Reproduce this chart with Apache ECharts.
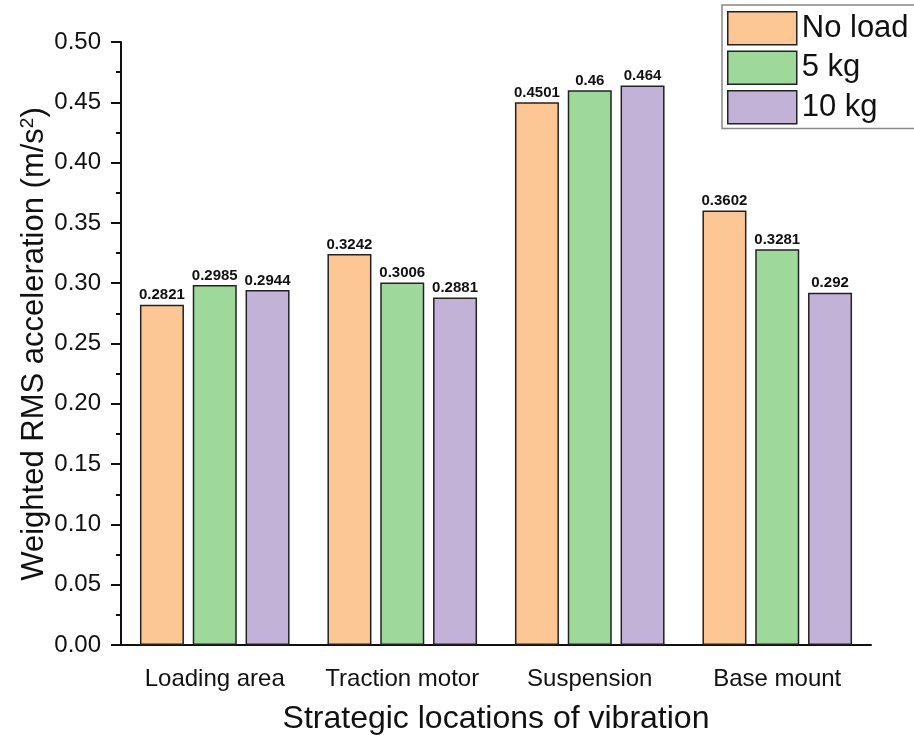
<!DOCTYPE html>
<html>
<head>
<meta charset="utf-8">
<script src="https://cdn.jsdelivr.net/npm/echarts@6/dist/echarts.min.js"></script>
<style>html,body{margin:0;padding:0;background:#fff}#c{width:914px;height:740px}</style>
</head>
<body>
<div id="c"></div>
<script>
const categories = ['Loading area', 'Traction motor', 'Suspension', 'Base mount'];
const seriesNames = ['No load', '5 kg', '10 kg'];
const noLoad = [0.2821, 0.3242, 0.4501, 0.3602];
const kg5 = [0.2985, 0.3006, 0.46, 0.3281];
const kg10 = [0.2944, 0.2881, 0.464, 0.292];
const colors = ['#FDC795', '#9ED99B', '#C3B2D8'];

const font = 'Liberation Sans, Arial, sans-serif';
const chart = echarts.init(document.getElementById('c'));
function mk(name, data, color) {
  return {
    name: name, type: 'bar', data: data, xAxisIndex: 0,
    barWidth: 44, barGap: '20%',
    itemStyle: { color: color, borderColor: '#222', borderWidth: 1.5 },
    label: { show: true, position: 'top', distance: 2, fontSize: 15, fontWeight: 'bold', color: '#111', fontFamily: font,
      formatter: p => String(p.value) }
  };
}
chart.setOption({
  animation: false,
  textStyle: { fontFamily: font },
  grid: { left: 121, right: 43, top: 42, bottom: 95 },
  legend: {
    left: 722, top: 5, orient: 'vertical', icon: 'rect',
    itemWidth: 69, itemHeight: 33, itemGap: 5,
    padding: [6, 50, 4, 5],
    borderColor: '#888', borderWidth: 1.5,
    textStyle: { fontSize: 31, color: '#111', fontFamily: font },
    itemStyle: { borderColor: '#222', borderWidth: 1.5 },
    data: seriesNames
  },
  graphic: [{
    type: 'text', x: 34, y: 344, rotation: Math.PI / 2,
    style: {
      text: 'Weighted RMS acceleration (m/s{sup|2})',
      fontSize: 31, fill: '#111', fontFamily: font, align: 'center', verticalAlign: 'middle',
      rich: { sup: { fontSize: 19, fill: '#111', fontFamily: font, verticalAlign: 'top', padding: [0, 0, 12, 0] } }
    }
  }],
  xAxis: [{
    type: 'category', data: categories,
    name: 'Strategic locations of vibration', nameLocation: 'middle', nameGap: 58,
    nameTextStyle: { fontSize: 32, color: '#111', fontFamily: font },
    axisLine: { lineStyle: { color: '#111', width: 2 } },
    axisTick: { alignWithLabel: true, length: 10, lineStyle: { color: '#111', width: 2 } },
    axisLabel: { interval: 0, fontSize: 24, color: '#111', margin: 22, fontFamily: font }
  }, {
    type: 'category', data: categories, position: 'bottom',
    axisLine: { show: false },
    axisTick: { length: 5, lineStyle: { color: '#111', width: 2 } },
    axisLabel: { show: false }
  }],
  yAxis: {
    type: 'value', min: 0, max: 0.5, interval: 0.05,
    axisLine: { show: true, lineStyle: { color: '#111', width: 2 } },
    axisTick: { show: true, length: 10, lineStyle: { color: '#111', width: 2 } },
    minorTick: { show: true, splitNumber: 2, length: 5, lineStyle: { color: '#111', width: 2 } },
    splitLine: { show: false },
    axisLabel: { fontSize: 24, color: '#111', margin: 20, fontFamily: font, formatter: v => v.toFixed(2) }
  },
  series: [mk(seriesNames[0], noLoad, colors[0]), mk(seriesNames[1], kg5, colors[1]), mk(seriesNames[2], kg10, colors[2])]
});
</script>
</body>
</html>
